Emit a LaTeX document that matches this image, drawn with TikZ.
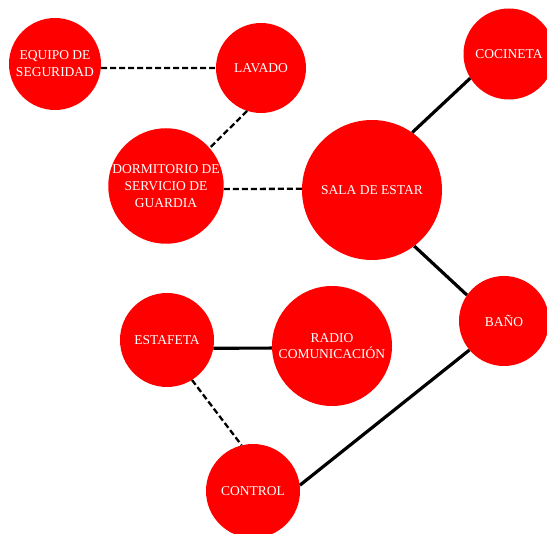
\documentclass[tikz,border=0pt]{standalone}
\usepackage{fontspec}
\setmainfont{Liberation Serif}
\begin{document}
\begin{tikzpicture}[x=1pt, y=-1pt,
        room/.style={circle, fill=red, text=white, inner sep=0pt, align=center,
            font=\fontsize{13.5}{16.8}\selectfont},
        link/.style={line width=3.2pt},
        weak/.style={line width=2.3pt, dash pattern=on 6pt off 3pt}]
                \useasboundingbox (0,0) rectangle (547,534);
                \node[room, minimum size=92pt] (eq) at (55,64) {EQUIPO DE\\SEGURIDAD};
                \node[room, minimum size=90pt] (lav) at (261,68) {LAVADO};
                \node[room, minimum size=91pt] (coc) at (509,54) {COCINETA};
                \node[room, minimum size=114pt] (dor) at (166,186) {DORMITORIO DE\\SERVICIO DE\\GUARDIA};
                \node[room, minimum size=140pt] (sala) at (372,190) {SALA DE ESTAR};
                \node[room, minimum size=90pt] (ban) at (504,321) {BAÑO};
                \node[room, minimum size=94pt] (est) at (167,340) {ESTAFETA};
                \node[room, minimum size=120pt] (rad) at (332,346) {RADIO\\COMUNICACIÓN};
                \node[room, minimum size=94pt] (con) at (253,491) {CONTROL};
                \draw[weak] (eq.355) -- (lav.180);
                \draw[weak] (lav.252) -- (dor.41);
                \draw[weak] (dor.357) -- (sala.179);
                \draw[weak] (est.302) -- (con.104);
                \draw[link] (sala.55) -- (coc.212);
                \draw[link] (sala.307) -- (ban.145);
                \draw[link] (est.350) -- (rad.182);
                \draw[link] (con.7) -- (ban.220);
            \end{tikzpicture}
\end{document}
